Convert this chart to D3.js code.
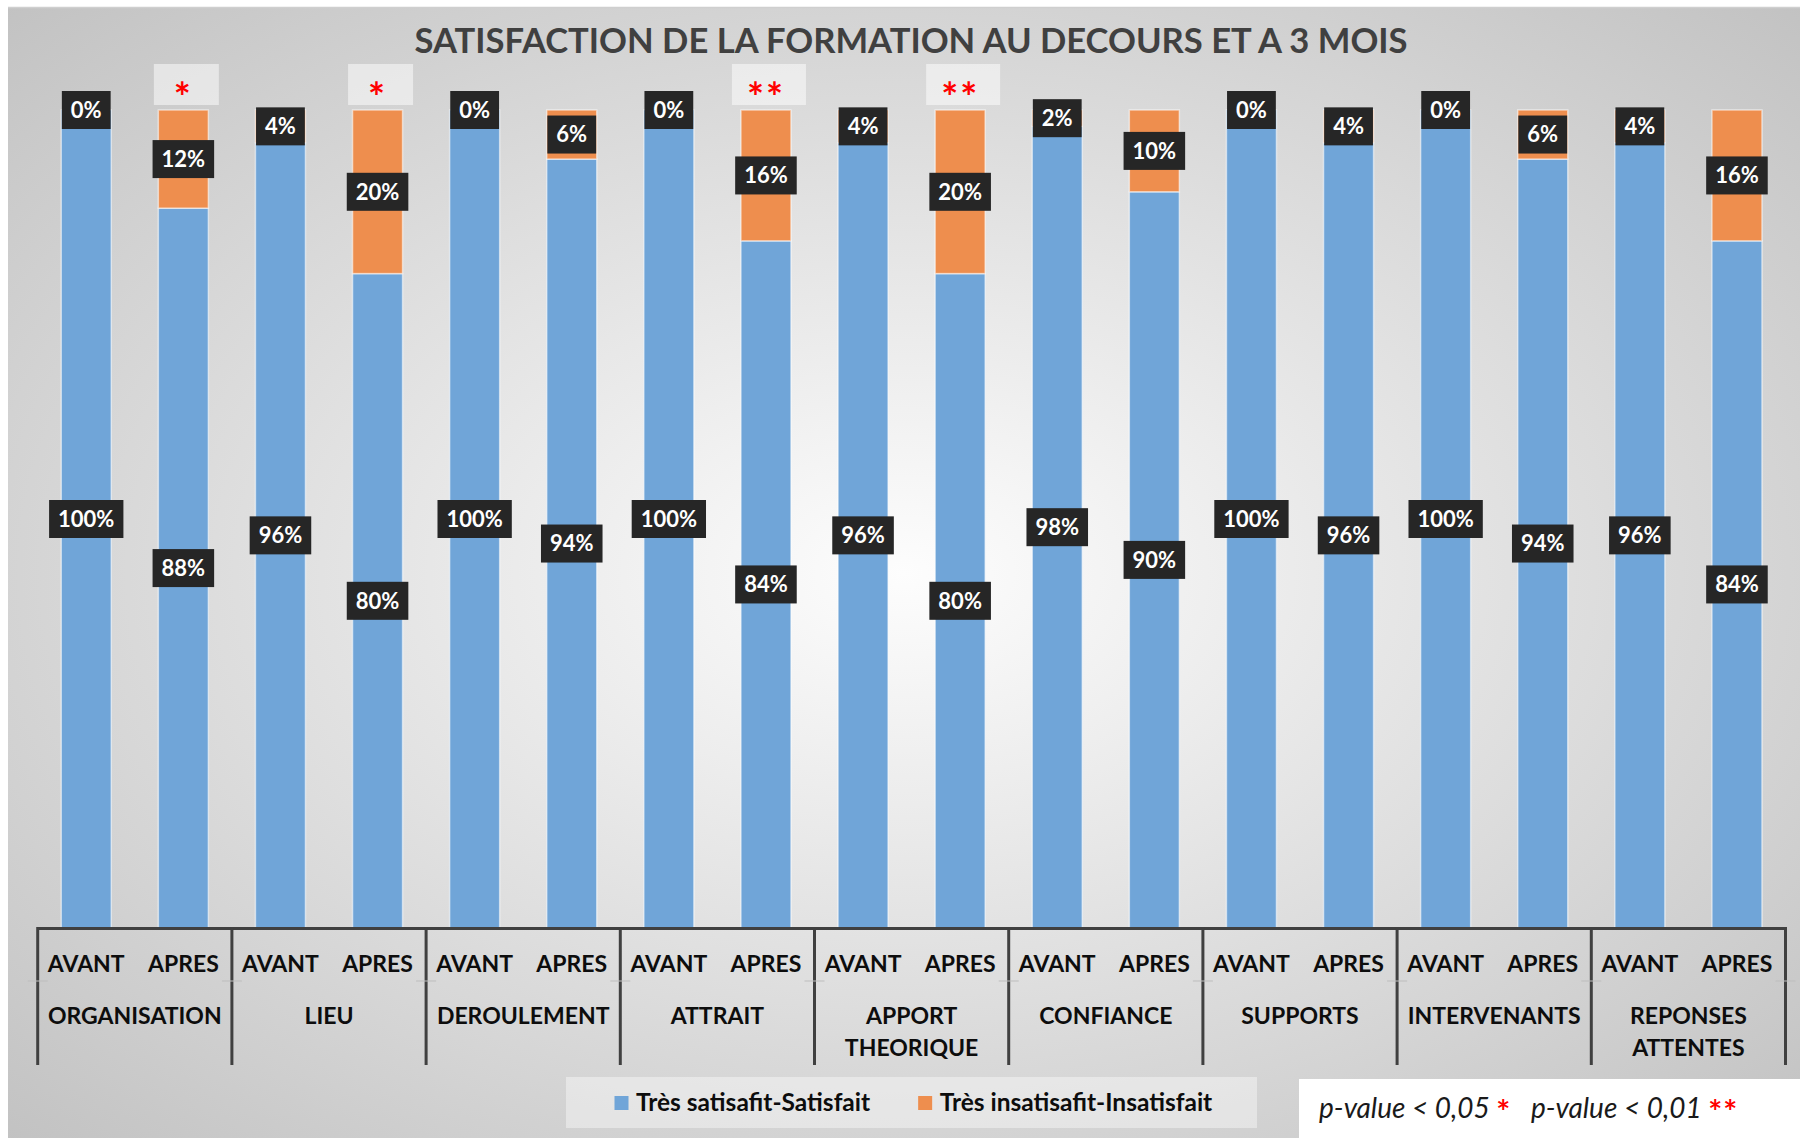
<!DOCTYPE html>
<html><head><meta charset="utf-8">
<script src="https://cdn.jsdelivr.net/npm/d3@7"></script>
<style>html,body{margin:0;padding:0;background:#fff;} svg{display:block;}</style>
</head><body>
<svg id="chart" width="1800" height="1138"></svg>
<script>
// ---- DATA ----
const title = "SATISFACTION DE LA FORMATION AU DECOURS ET A 3 MOIS";
const categories = ["ORGANISATION", "LIEU", "DEROULEMENT", "ATTRAIT", "APPORT\nTHEORIQUE", "CONFIANCE", "SUPPORTS", "INTERVENANTS", "REPONSES\nATTENTES"];
const periods = ["AVANT", "APRES"];
const satisfaitAvant   = [100, 96, 100, 100, 96, 98, 100, 100, 96];
const satisfaitApres   = [88, 80, 94, 84, 80, 90, 96, 94, 84];
const insatisfaitAvant = [0, 4, 0, 0, 4, 2, 0, 0, 4];
const insatisfaitApres = [12, 20, 6, 16, 20, 10, 4, 6, 16];
const significanceApres = ["*", "*", "", "**", "**", "", "", "", ""];
const seriesNames = ["Très satisafit-Satisfait", "Très insatisafit-Insatisfait"];
const pvalueLegend = [["p-value < 0,05 ", "*"], ["   p-value < 0,01 ", "**"]];

// ---- SETUP ----
const W = 1800, H = 1138;
const svg = d3.select("#chart");
const colors = {sat: "#70a5d8", ins: "#ee8e4e"};
const FONT = "Lato, 'Open Sans', sans-serif";

const defs = svg.append("defs");
const rg = defs.append("radialGradient").attr("id", "bg").attr("cx", "50%").attr("cy", "50%").attr("r", "71%");
rg.append("stop").attr("offset", "0%").attr("stop-color", "#fdfdfd");
rg.append("stop").attr("offset", "100%").attr("stop-color", "#c2c2c2");

svg.append("rect").attr("x", 0).attr("y", 0).attr("width", W).attr("height", H).attr("fill", "#fff");
svg.append("rect").attr("x", 8).attr("y", 8).attr("width", W - 8).attr("height", H - 8).attr("fill", "url(#bg)");
svg.append("line").attr("x1", 8).attr("x2", W).attr("y1", 7.5).attr("y2", 7.5).attr("stroke", "#cfcfcf").attr("stroke-width", 1.5);

// Build rows
const rows = [];
categories.forEach((c, i) => {
  rows.push({cat: c, per: "AVANT", sat: satisfaitAvant[i], ins: insatisfaitAvant[i], sig: ""});
  rows.push({cat: c, per: "APRES", sat: satisfaitApres[i], ins: insatisfaitApres[i], sig: significanceApres[i]});
});

const x0 = d3.scaleBand().domain(categories).range([37.7, 1785.5]).padding(0);
const x1 = d3.scaleBand().domain(periods).range([0, x0.bandwidth()]).paddingInner(0.485).paddingOuter(0.2425);
const y = d3.scaleLinear().domain([0, 100]).range([928, 110]);

// Title
svg.append("text").attr("x", 911).attr("y", 53).attr("text-anchor", "middle")
  .attr("font-family", FONT).attr("font-weight", 700).attr("font-size", 34.6).attr("fill", "#404040")
  .text(title);

// Bars
const g = svg.append("g");
const bx = d => x0(d.cat) + x1(d.per);
g.selectAll("rect.sat").data(rows).join("rect").attr("class", "sat")
  .attr("x", bx).attr("width", x1.bandwidth())
  .attr("y", d => y(d.sat)).attr("height", d => y(0) - y(d.sat))
  .attr("fill", colors.sat).attr("stroke", "rgba(255,255,255,0.55)").attr("stroke-width", 1.5);
g.selectAll("rect.ins").data(rows.filter(d => d.ins > 0)).join("rect").attr("class", "ins")
  .attr("x", bx).attr("width", x1.bandwidth())
  .attr("y", d => y(d.sat + d.ins)).attr("height", d => y(d.sat) - y(d.sat + d.ins))
  .attr("fill", colors.ins).attr("stroke", "rgba(255,255,255,0.55)").attr("stroke-width", 1.5);

// Value labels
function label(cx, cy, txt) {
  const lg = svg.append("g");
  const r = lg.append("rect").attr("fill", "#262626");
  const t = lg.append("text").attr("x", cx).attr("y", cy).attr("dy", "0.36em").attr("text-anchor", "middle")
    .attr("font-family", FONT).attr("font-weight", 700).attr("font-size", 22).attr("fill", "#fff").text(txt);
  const w = t.node().getComputedTextLength() + 18;
  r.attr("x", cx - w / 2).attr("y", cy - 19).attr("width", w).attr("height", 38);
}
rows.forEach(d => {
  const cx = bx(d) + x1.bandwidth() / 2;
  label(cx, y(d.sat / 2), d.sat + "%");
});
rows.forEach(d => {
  const cx = bx(d) + x1.bandwidth() / 2;
  label(cx, y(d.sat + d.ins / 2), d.ins + "%");
});

// Significance markers
rows.filter(d => d.sig).forEach(d => {
  const cx = bx(d) + x1.bandwidth() / 2;
  const bw = d.sig.length === 1 ? 65 : 74;
  svg.append("rect").attr("x", cx + 3 - bw / 2).attr("y", 64).attr("width", bw).attr("height", 41)
    .attr("fill", "#fff").attr("fill-opacity", 0.5);
  svg.append("text").attr("x", cx).attr("y", 112).attr("text-anchor", "middle")
    .attr("font-family", FONT).attr("font-weight", 700).attr("font-size", 40).attr("fill", "#ff0000")
    .attr("letter-spacing", 2).text(d.sig);
});

// Axis
const ax = svg.append("g").attr("stroke", "#404040").attr("stroke-width", 3);
ax.append("line").attr("x1", x0.range()[0]).attr("x2", x0.range()[1]).attr("y1", 928.5).attr("y2", 928.5);
const bounds = categories.map(c => x0(c)).concat([x0.range()[1]]);
svg.append("g").selectAll("line.tk").data(bounds).join("line")
  .attr("x1", d => d - 10).attr("x2", d => d + 10).attr("y1", 981).attr("y2", 981)
  .attr("stroke", "#bdbdbd").attr("stroke-width", 1);
ax.selectAll("line.div").data(bounds).join("line").attr("class", "div")
  .attr("x1", d => d).attr("x2", d => d).attr("y1", 927).attr("y2", 1065);

// Period labels
svg.append("g").selectAll("text").data(rows).join("text")
  .attr("x", d => bx(d) + x1.bandwidth() / 2).attr("y", 972).attr("text-anchor", "middle")
  .attr("font-family", FONT).attr("font-weight", 700).attr("font-size", 23).attr("fill", "#0d0d0d")
  .text(d => d.per);
// Category labels
categories.forEach(c => {
  const t = svg.append("text").attr("x", x0(c) + x0.bandwidth() / 2).attr("y", 1024).attr("text-anchor", "middle")
    .attr("font-family", FONT).attr("font-weight", 700).attr("font-size", 23).attr("fill", "#0d0d0d");
  c.split("\n").forEach((ln, i) => {
    t.append("tspan").attr("x", x0(c) + x0.bandwidth() / 2).attr("dy", i === 0 ? 0 : 32).text(ln);
  });
});

// Legend
svg.append("rect").attr("x", 566).attr("y", 1077).attr("width", 691).attr("height", 51)
  .attr("fill", "#fff").attr("fill-opacity", 0.4);
let lx = 614.5;
[colors.sat, colors.ins].forEach((col, i) => {
  svg.append("rect").attr("x", lx).attr("y", 1096).attr("width", 14).attr("height", 14).attr("fill", col);
  const t = svg.append("text").attr("x", lx + 21.5).attr("y", 1111).attr("font-family", FONT).attr("font-weight", 700)
    .attr("font-size", 24.5).attr("fill", "#0d0d0d").text(seriesNames[i]);
  lx = lx + 21.5 + t.node().getComputedTextLength() + 48;
});

// p-value box
svg.append("rect").attr("x", 1299).attr("y", 1079).attr("width", W - 1299).attr("height", H - 1079).attr("fill", "#fff");
const pt = svg.append("text").attr("x", 1319).attr("y", 1118).attr("font-family", FONT).attr("font-size", 28)
  .attr("font-style", "italic").attr("fill", "#1a1a1a");
pvalueLegend.forEach(([txt, star], i) => {
  pt.append("tspan").attr("xml:space", "preserve").style("white-space", "pre").attr("dy", i === 0 ? 0 : -6).text(txt);
  pt.append("tspan").attr("fill", "#ff0000").attr("font-weight", 700).attr("font-style", "normal")
    .attr("font-size", 33).attr("dy", 6).attr("letter-spacing", 1).text(star);
});
</script>
</body></html>
